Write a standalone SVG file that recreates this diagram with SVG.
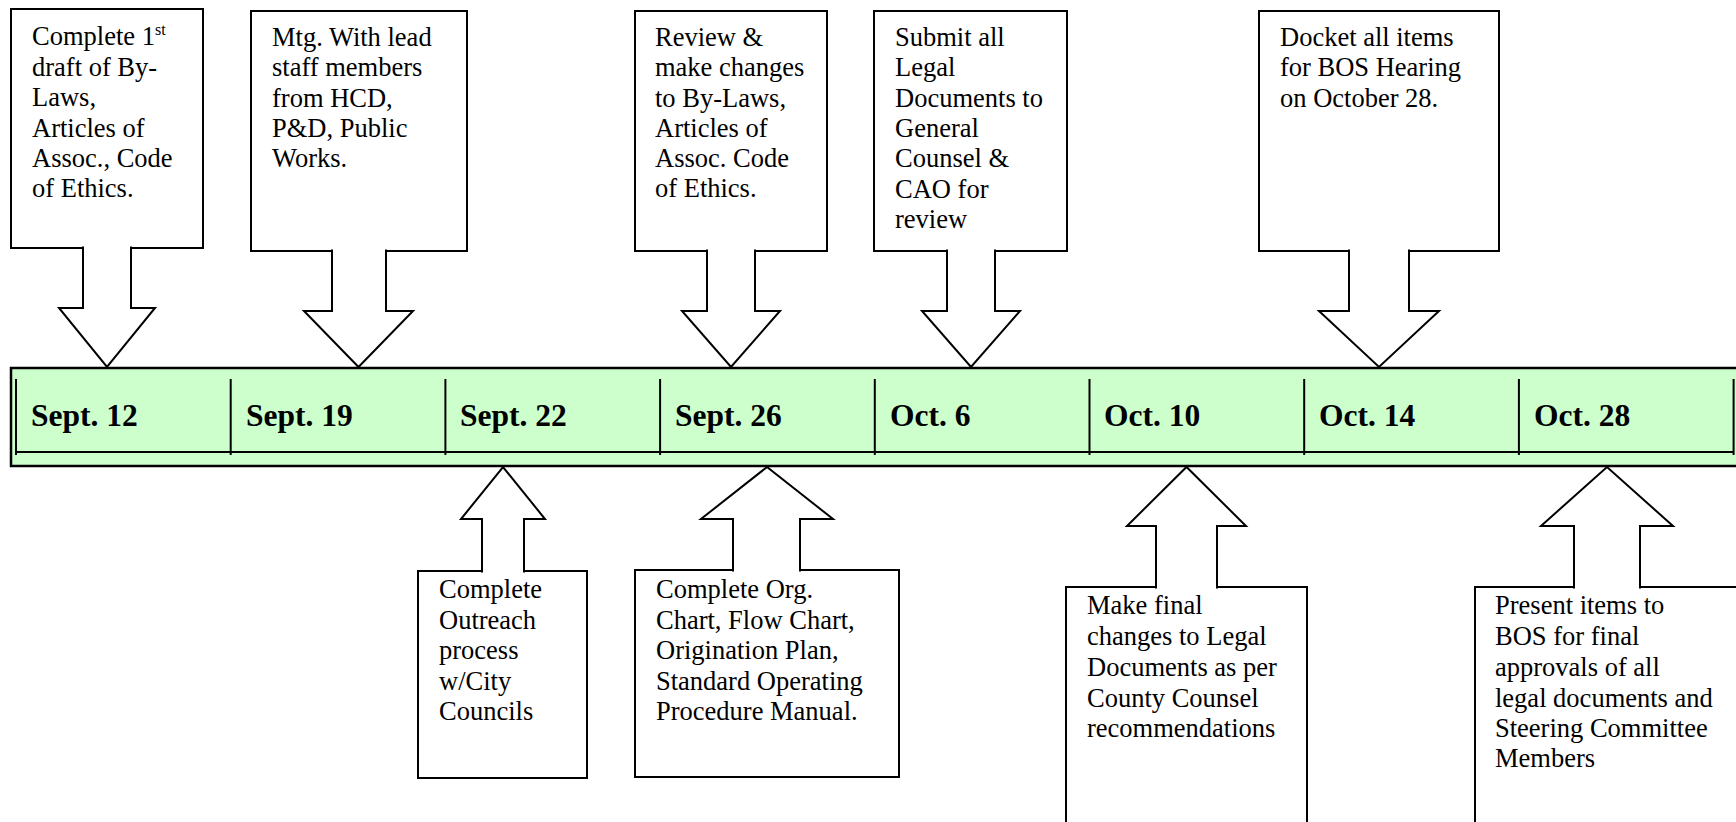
<svg xmlns="http://www.w3.org/2000/svg" width="1736" height="822" viewBox="0 0 1736 822">
<style>
.box{fill:#fff;stroke:#000;stroke-width:2}
.arr{fill:#fff;stroke:#000;stroke-width:2;stroke-linejoin:miter}
.t{font-family:"Liberation Serif","Times New Roman",serif;font-size:26.5px;fill:#000}
.d{font-family:"Liberation Serif","Times New Roman",serif;font-size:31.5px;font-weight:bold;fill:#000}
.ln{stroke:#000;stroke-width:2}
</style>
<rect width="1736" height="822" fill="#fff"/>
<g id="timeline">
<rect x="11" y="368" width="1740" height="98" fill="#CCFFCC" stroke="#000" stroke-width="2.5"/>
<line class="ln" x1="16" y1="452" x2="1734" y2="452"/>
<line class="ln" x1="16" y1="379" x2="16" y2="455"/>
<line class="ln" x1="230.7" y1="379" x2="230.7" y2="455"/>
<line class="ln" x1="445.4" y1="379" x2="445.4" y2="455"/>
<line class="ln" x1="660.1" y1="379" x2="660.1" y2="455"/>
<line class="ln" x1="874.8" y1="379" x2="874.8" y2="455"/>
<line class="ln" x1="1089.5" y1="379" x2="1089.5" y2="455"/>
<line class="ln" x1="1304.2" y1="379" x2="1304.2" y2="455"/>
<line class="ln" x1="1518.9" y1="379" x2="1518.9" y2="455"/>
<line class="ln" x1="1733.6" y1="379" x2="1733.6" y2="455"/>
<text class="d" x="31" y="426">Sept. 12</text>
<text class="d" x="246" y="426">Sept. 19</text>
<text class="d" x="460" y="426">Sept. 22</text>
<text class="d" x="675" y="426">Sept. 26</text>
<text class="d" x="890" y="426">Oct. 6</text>
<text class="d" x="1104" y="426">Oct. 10</text>
<text class="d" x="1319" y="426">Oct. 14</text>
<text class="d" x="1534" y="426">Oct. 28</text>
</g>
<g id="n1">
<rect class="box" x="11" y="9" width="192" height="239"/>
<text class="t" x="32" y="45">Complete 1<tspan font-size="16" dy="-10">st</tspan></text>
<text class="t" x="32" y="75.5">draft of By-</text>
<text class="t" x="32" y="106">Laws,</text>
<text class="t" x="32" y="136.5">Articles of</text>
<text class="t" x="32" y="167">Assoc., Code</text>
<text class="t" x="32" y="197">of Ethics.</text>
</g>
<g id="n2">
<rect class="box" x="251" y="11" width="216" height="240"/>
<text class="t" x="272" y="45.5">Mtg. With lead</text>
<text class="t" x="272" y="76">staff members</text>
<text class="t" x="272" y="106.5">from HCD,</text>
<text class="t" x="272" y="137">P&amp;D, Public</text>
<text class="t" x="272" y="167">Works.</text>
</g>
<g id="n3">
<rect class="box" x="635" y="11" width="192" height="240"/>
<text class="t" x="655" y="45.5">Review &amp;</text>
<text class="t" x="655" y="76">make changes</text>
<text class="t" x="655" y="106.5">to By-Laws,</text>
<text class="t" x="655" y="137">Articles of</text>
<text class="t" x="655" y="167">Assoc. Code</text>
<text class="t" x="655" y="197">of Ethics.</text>
</g>
<g id="n4">
<rect class="box" x="874" y="11" width="193" height="240"/>
<text class="t" x="895" y="45.5">Submit all</text>
<text class="t" x="895" y="76">Legal</text>
<text class="t" x="895" y="106.5">Documents to</text>
<text class="t" x="895" y="137">General</text>
<text class="t" x="895" y="167">Counsel &amp;</text>
<text class="t" x="895" y="197.5">CAO for</text>
<text class="t" x="895" y="228">review</text>
</g>
<g id="n5">
<rect class="box" x="1259" y="11" width="240" height="240"/>
<text class="t" x="1280" y="45.5">Docket all items</text>
<text class="t" x="1280" y="76">for BOS Hearing</text>
<text class="t" x="1280" y="106.5">on October 28.</text>
</g>
<g id="n6">
<rect class="box" x="418" y="571" width="169" height="207"/>
<text class="t" x="439" y="598">Complete</text>
<text class="t" x="439" y="629">Outreach</text>
<text class="t" x="439" y="659">process</text>
<text class="t" x="439" y="690">w/City</text>
<text class="t" x="439" y="720">Councils</text>
</g>
<g id="n7">
<rect class="box" x="635" y="570" width="264" height="207"/>
<text class="t" x="656" y="598">Complete Org.</text>
<text class="t" x="656" y="629">Chart, Flow Chart,</text>
<text class="t" x="656" y="659">Origination Plan,</text>
<text class="t" x="656" y="690">Standard Operating</text>
<text class="t" x="656" y="720">Procedure Manual.</text>
</g>
<g id="n8">
<rect class="box" x="1066" y="587" width="241" height="260"/>
<text class="t" x="1087" y="614">Make final</text>
<text class="t" x="1087" y="645">changes to Legal</text>
<text class="t" x="1087" y="676">Documents as per</text>
<text class="t" x="1087" y="707">County Counsel</text>
<text class="t" x="1087" y="737">recommendations</text>
</g>
<g id="n9">
<rect class="box" x="1475" y="587" width="270" height="260"/>
<text class="t" x="1495" y="614">Present items to</text>
<text class="t" x="1495" y="645">BOS for final</text>
<text class="t" x="1495" y="676">approvals of all</text>
<text class="t" x="1495" y="707">legal documents and</text>
<text class="t" x="1495" y="737">Steering Committee</text>
<text class="t" x="1495" y="767">Members</text>
</g>
<g id="connectors">
<path class="arr" d="M83,246.5 L83,308 L59,308 L107,367 L155,308 L131,308 L131,246.5"/>
<path class="arr" d="M332,249.5 L332,311 L304,311 L358.5,367 L413,311 L386,311 L386,249.5"/>
<path class="arr" d="M707,249.5 L707,311 L682,311 L731,367 L780,311 L755,311 L755,249.5"/>
<path class="arr" d="M947,249.5 L947,311 L922,311 L971,367 L1020,311 L995,311 L995,249.5"/>
<path class="arr" d="M1349,249.5 L1349,311 L1319,311 L1379,367 L1439,311 L1409,311 L1409,249.5"/>
<path class="arr" d="M482,572.5 L482,519 L461,519 L503,467 L545,519 L524,519 L524,572.5"/>
<path class="arr" d="M733,571.5 L733,519 L701,519 L767,467 L833,519 L800,519 L800,571.5"/>
<path class="arr" d="M1156,588.5 L1156,526 L1127,526 L1186.5,467 L1246,526 L1217,526 L1217,588.5"/>
<path class="arr" d="M1574,588.5 L1574,526 L1541,526 L1607,467 L1673,526 L1640,526 L1640,588.5"/>
</g>
</svg>
